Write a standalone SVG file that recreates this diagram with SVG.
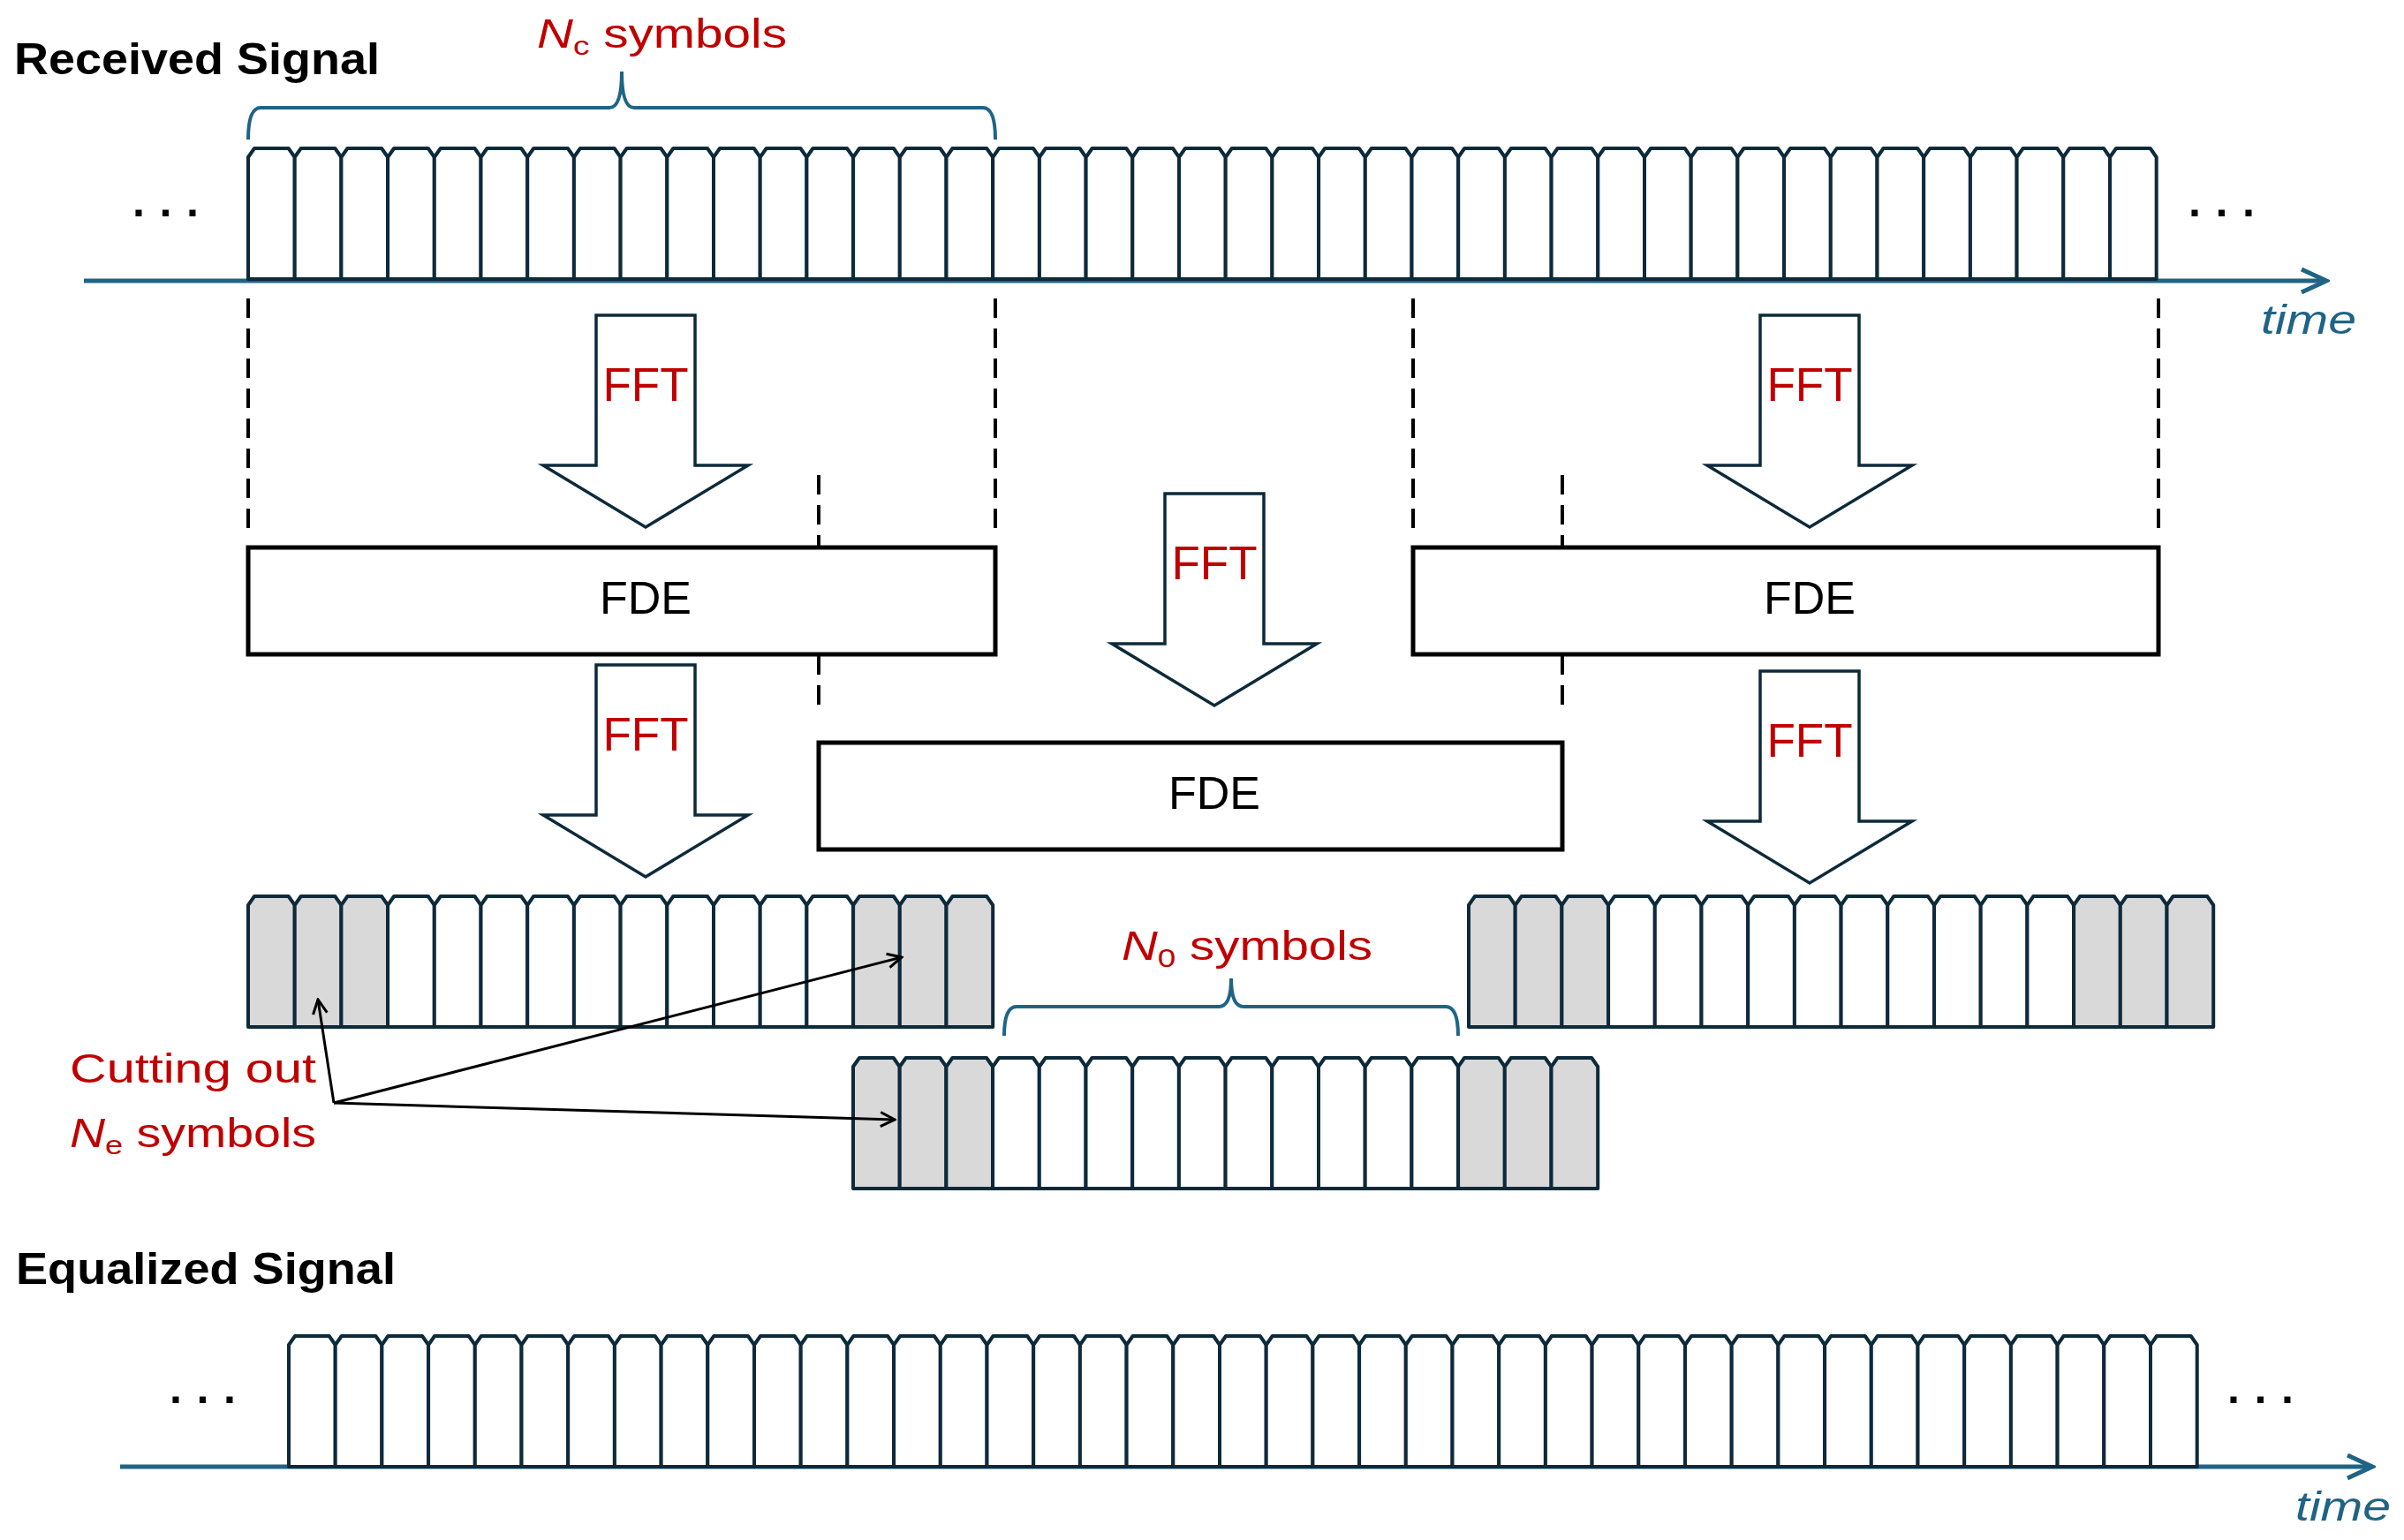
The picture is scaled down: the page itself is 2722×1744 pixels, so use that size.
<svg xmlns="http://www.w3.org/2000/svg" xmlns:xlink="http://www.w3.org/1999/xlink" width="2722" height="1744" viewBox="0 0 2722 1744">
<style>
.cell{fill:#fff;stroke:#0d2a3a;stroke-width:4;stroke-linejoin:round}
.grey{fill:#d9d9d9}
.axis{stroke:#1f6485;stroke-width:5;fill:none}
.brace{stroke:#1f6485;stroke-width:4;fill:none}
.dash{stroke:#000;stroke-width:4;stroke-dasharray:22,12;fill:none}
.barrow{fill:#fff;stroke:#0d2a3a;stroke-width:3.5}
.fde{fill:#fff;stroke:#000;stroke-width:5}
.red{fill:#c00000;font-family:"Liberation Sans",Arial,sans-serif}
.blk{fill:#000;font-family:"Liberation Sans",Arial,sans-serif}
.title{fill:#000;font-family:"Liberation Sans",Arial,sans-serif;font-weight:bold;font-size:50px}
.time{fill:#1f6485;font-family:"Liberation Sans",Arial,sans-serif;font-style:italic;font-size:46px}
.dots{fill:#000;font-family:"Liberation Sans",Arial,sans-serif;font-size:50px;font-weight:bold}
.thin{stroke:#000;stroke-width:3;fill:none}
</style>
<defs>
<path id="c" d="M0,148 V10 L7,0 H45.7 L52.7,10 V148 Z"/>
<g id="row41" class="cell">
<use href="#c" x="0"/><use href="#c" x="52.7"/><use href="#c" x="105.4"/><use href="#c" x="158.1"/><use href="#c" x="210.8"/><use href="#c" x="263.5"/><use href="#c" x="316.2"/><use href="#c" x="368.9"/><use href="#c" x="421.6"/><use href="#c" x="474.3"/><use href="#c" x="527"/><use href="#c" x="579.7"/><use href="#c" x="632.4"/><use href="#c" x="685.1"/><use href="#c" x="737.8"/><use href="#c" x="790.5"/><use href="#c" x="843.2"/><use href="#c" x="895.9"/><use href="#c" x="948.6"/><use href="#c" x="1001.3"/><use href="#c" x="1054"/><use href="#c" x="1106.7"/><use href="#c" x="1159.4"/><use href="#c" x="1212.1"/><use href="#c" x="1264.8"/><use href="#c" x="1317.5"/><use href="#c" x="1370.2"/><use href="#c" x="1422.9"/><use href="#c" x="1475.6"/><use href="#c" x="1528.3"/><use href="#c" x="1581"/><use href="#c" x="1633.7"/><use href="#c" x="1686.4"/><use href="#c" x="1739.1"/><use href="#c" x="1791.8"/><use href="#c" x="1844.5"/><use href="#c" x="1897.2"/><use href="#c" x="1949.9"/><use href="#c" x="2002.6"/><use href="#c" x="2055.3"/><use href="#c" x="2108"/>
</g>
<g id="block16" class="cell">
<use href="#c" x="0" class="grey"/><use href="#c" x="52.7" class="grey"/><use href="#c" x="105.4" class="grey"/><use href="#c" x="158.1"/><use href="#c" x="210.8"/><use href="#c" x="263.5"/><use href="#c" x="316.2"/><use href="#c" x="368.9"/><use href="#c" x="421.6"/><use href="#c" x="474.3"/><use href="#c" x="527"/><use href="#c" x="579.7"/><use href="#c" x="632.4"/><use href="#c" x="685.1" class="grey"/><use href="#c" x="737.8" class="grey"/><use href="#c" x="790.5" class="grey"/>
</g>
<path id="ba" d="M-56,0 H56 V170 H116 L0,240 L-116,170 H-56 Z"/>
<marker id="ah" markerWidth="20" markerHeight="20" refX="18" refY="10" orient="auto" markerUnits="userSpaceOnUse">
<path d="M2,2 L18,10 L2,18" fill="none" stroke="#000" stroke-width="3"/>
</marker>
<marker id="ax" markerWidth="34" markerHeight="30" refX="30" refY="15" orient="auto" markerUnits="userSpaceOnUse">
<path d="M2,2 L30,15 L2,28" fill="none" stroke="#1f6485" stroke-width="5"/>
</marker>
</defs>

<g id="received">
<text class="title" x="16" y="84" textLength="414" lengthAdjust="spacingAndGlyphs">Received Signal</text>
<path class="axis" d="M95,318 H2634" marker-end="url(#ax)"/>
<use href="#row41" x="281" y="168"/>
<text class="dots" x="150" y="258">·  ·  ·</text>
<text class="dots" x="2478" y="258">·  ·  ·</text>
<text class="time" x="2560" y="378" textLength="108" lengthAdjust="spacingAndGlyphs">time</text>
<path class="brace" d="M281,158 Q281,122 295,122 H690 Q704,122 704,81 Q704,122 718,122 H1113 Q1127,122 1127,158"/>
<text class="red" x="608" y="54" font-size="46" textLength="283" lengthAdjust="spacingAndGlyphs"><tspan font-style="italic">N</tspan><tspan font-size="30" dy="8">c</tspan><tspan dy="-8"> symbols</tspan></text>
</g>

<g id="dashes">
<path class="dash" d="M281,338 V600 M1127,338 V600 M1600,338 V600 M2444,338 V600 M927,538 V802 M1769,538 V802"/>
</g>

<g id="fft1"><use href="#ba" class="barrow" x="731" y="357"/><text class="red" x="731" y="454" font-size="53" text-anchor="middle">FFT</text></g>
<g id="fft2"><use href="#ba" class="barrow" x="2049" y="357"/><text class="red" x="2049" y="454" font-size="53" text-anchor="middle">FFT</text></g>
<g id="fde1"><rect class="fde" x="281" y="620" width="846" height="121"/><text class="blk" x="731" y="695" font-size="52" text-anchor="middle">FDE</text></g>
<g id="fde2"><rect class="fde" x="1600" y="620" width="844" height="121"/><text class="blk" x="2049" y="695" font-size="52" text-anchor="middle">FDE</text></g>
<g id="fft3"><use href="#ba" class="barrow" x="1375" y="559"/><text class="red" x="1375" y="656" font-size="53" text-anchor="middle">FFT</text></g>
<g id="fde3"><rect class="fde" x="927" y="841" width="842" height="121"/><text class="blk" x="1375" y="916" font-size="52" text-anchor="middle">FDE</text></g>
<g id="fft4"><use href="#ba" class="barrow" x="731" y="753"/><text class="red" x="731" y="850" font-size="53" text-anchor="middle">FFT</text></g>
<g id="fft5"><use href="#ba" class="barrow" x="2049" y="760"/><text class="red" x="2049" y="857" font-size="53" text-anchor="middle">FFT</text></g>

<g id="blockL"><use href="#block16" x="281" y="1015"/></g>
<g id="blockR"><use href="#block16" x="1663" y="1015"/></g>
<g id="blockM"><use href="#block16" x="966" y="1198"/></g>

<g id="n0">
<path class="brace" d="M1137,1173 Q1137,1140 1151,1140 H1380 Q1394,1140 1394,1108 Q1394,1140 1408,1140 H1637 Q1651,1140 1651,1173"/>
<text class="red" x="1270" y="1087" font-size="46" textLength="284" lengthAdjust="spacingAndGlyphs"><tspan font-style="italic">N</tspan><tspan font-size="30" dy="8">0</tspan><tspan dy="-8"> symbols</tspan></text>
</g>

<g id="cutting">
<text class="red" x="79" y="1226" font-size="46" textLength="279" lengthAdjust="spacingAndGlyphs">Cutting out</text>
<text class="red" x="79" y="1299" font-size="46" textLength="279" lengthAdjust="spacingAndGlyphs"><tspan font-style="italic">N</tspan><tspan font-size="30" dy="8">e</tspan><tspan dy="-8"> symbols</tspan></text>
</g>

<g id="connectors">
<path class="thin" d="M378,1249 L360,1132" marker-end="url(#ah)"/>
<path class="thin" d="M378,1249 L1021,1084" marker-end="url(#ah)"/>
<path class="thin" d="M378,1249 L1013,1268" marker-end="url(#ah)"/>
</g>

<g id="equalized">
<text class="title" x="18" y="1454" textLength="430" lengthAdjust="spacingAndGlyphs">Equalized Signal</text>
<path class="axis" d="M136,1661 H2686" marker-end="url(#ax)"/>
<use href="#row41" x="327" y="1513"/>
<text class="dots" x="192" y="1602">·  ·  ·</text>
<text class="dots" x="2522" y="1602">·  ·  ·</text>
<text class="time" x="2599" y="1722" textLength="108" lengthAdjust="spacingAndGlyphs">time</text>
</g>
</svg>
